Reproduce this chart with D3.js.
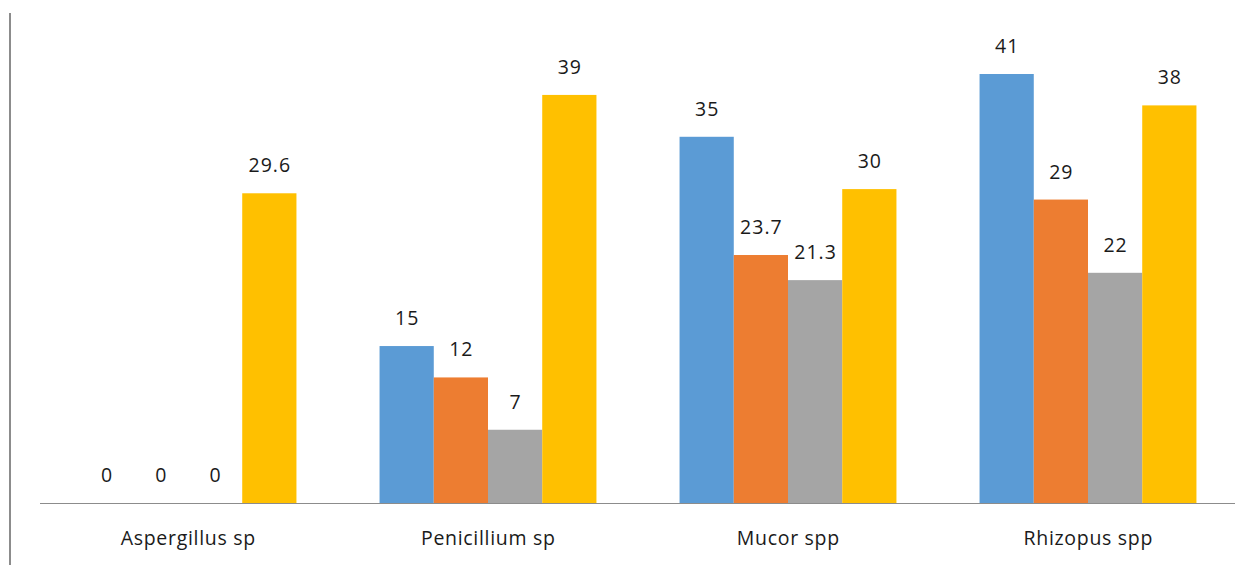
<!DOCTYPE html>
<html><head><meta charset="utf-8">
<script src="https://cdn.jsdelivr.net/npm/d3@7"></script>
<style>body{margin:0;background:#fff}svg{display:block}</style>
</head><body>
<script>
const categories = ["Aspergillus sp", "Penicillium sp", "Mucor spp", "Rhizopus spp"];
const seriesNames = ["S1", "S2", "S3", "S4"];
const series1 = [0, 15, 35, 41];
const series2 = [0, 12, 23.7, 29];
const series3 = [0, 7, 21.3, 22];
const series4 = [29.6, 39, 30, 38];
const labels1 = ["0", "15", "35", "41"];
const labels2 = ["0", "12", "23.7", "29"];
const labels3 = ["0", "7", "21.3", "22"];
const labels4 = ["29.6", "39", "30", "38"];
const colors = ["#5B9BD5", "#ED7D31", "#A5A5A5", "#FFC000"];

const W = 1253, H = 565;
const svg = d3.select("body").append("svg").attr("width", W).attr("height", H);
const baseY = 503;
const x0 = d3.scaleBand().domain(categories).range([38, 1238]).paddingInner(0.277).paddingOuter(0.1385);
const x1 = d3.scaleBand().domain(seriesNames).range([0, x0.bandwidth()]);
const y = d3.scaleLinear().domain([0, 41]).range([baseY, 74]);

const allVals = [series1, series2, series3, series4];
const allLabels = [labels1, labels2, labels3, labels4];
const data = [];
categories.forEach((c, i) => seriesNames.forEach((s, j) => data.push({c, s, j, v: allVals[j][i], t: allLabels[j][i]})));

// left border line
svg.append("line").attr("x1", 10).attr("x2", 10).attr("y1", 13).attr("y2", H)
  .attr("stroke", "#8c8c8c").attr("stroke-width", 2);

svg.append("g").selectAll("rect").data(data).join("rect")
  .attr("x", d => x0(d.c) + x1(d.s))
  .attr("width", x1.bandwidth())
  .attr("y", d => y(d.v))
  .attr("height", d => y(0) - y(d.v))
  .attr("fill", d => colors[d.j]);

// baseline axis
const xAxis = d3.axisBottom(x0).tickSize(0).tickPadding(0);
const ax = svg.append("g").attr("transform", `translate(0,${baseY})`).call(xAxis);
ax.select(".domain").attr("stroke", "#8c8c8c").attr("d", "M40,0.5H1235");
ax.selectAll("text").attr("dy", null).attr("y", 42).attr("dx", 0.3)
  .attr("font-family", "'Open Sans', sans-serif").attr("font-size", 19.5)
  .attr("letter-spacing", 0.7).attr("fill", "#1a1a1a");

svg.append("g").selectAll("text").data(data).join("text")
  .attr("x", d => x0(d.c) + x1(d.s) + x1.bandwidth() / 2 + 0.5)
  .attr("y", d => y(d.v) - 21)
  .attr("text-anchor", "middle")
  .attr("font-family", "'Open Sans', sans-serif").attr("font-size", 19.5)
  .attr("letter-spacing", 1).attr("fill", "#1a1a1a")
  .text(d => d.t);
</script>
</body></html>
